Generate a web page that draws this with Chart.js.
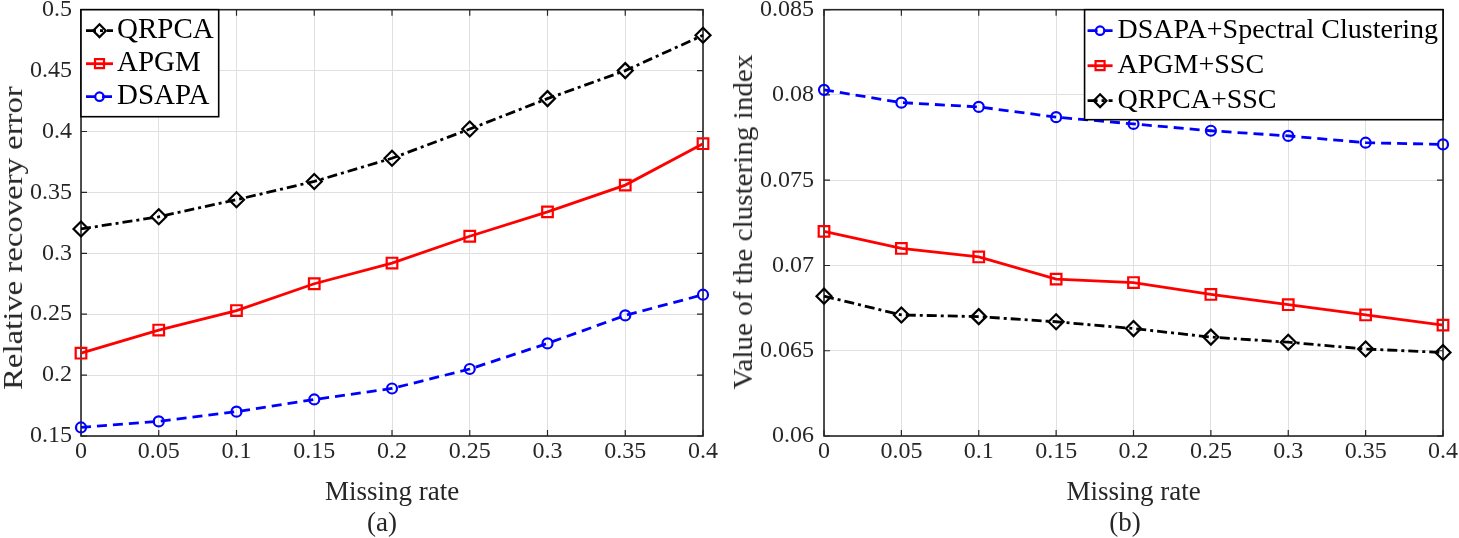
<!DOCTYPE html>
<html><head><meta charset="utf-8">
<script src="https://cdn.jsdelivr.net/npm/chart.js@4/dist/chart.umd.min.js"></script>
<style>
html,body{margin:0;padding:0;background:#fff;}
#wrap{position:relative;width:1459px;height:538px;overflow:hidden;font-family:"Liberation Serif","Times New Roman",serif;color:#262626;}
canvas{position:absolute;top:0;}
.lbl{position:absolute;white-space:nowrap;line-height:1;}
</style></head><body>
<div id="wrap">
<canvas id="ca" width="730" height="538" style="left:0"></canvas>
<canvas id="cb" width="729" height="538" style="left:730px"></canvas>
<div class="lbl" style="left:13px;top:238px;font-size:28px;transform:translate(-50%,-50%) rotate(-90deg) scaleX(1.17);">Relative recovery error</div>
<div class="lbl" style="left:743px;top:222px;font-size:28px;transform:translate(-50%,-50%) rotate(-90deg) scaleX(1.04);">Value of the clustering index</div>
<div class="lbl" style="left:382px;top:522px;font-size:27px;transform:translate(-50%,-50%);">(a)</div>
<div class="lbl" style="left:1125px;top:522px;font-size:27px;transform:translate(-50%,-50%);">(b)</div>
</div>
<script>
// ---------- data ----------
const missingRate = [0, 0.05, 0.1, 0.15, 0.2, 0.25, 0.3, 0.35, 0.4];
const xTickLabels = ['0', '0.05', '0.1', '0.15', '0.2', '0.25', '0.3', '0.35', '0.4'];

// (a) relative recovery error
const qrpcaErr = [0.320, 0.330, 0.344, 0.359, 0.378, 0.402, 0.427, 0.450, 0.479];
const apgmErr  = [0.218, 0.237, 0.253, 0.275, 0.292, 0.314, 0.334, 0.356, 0.390];
const dsapaErr = [0.157, 0.162, 0.170, 0.180, 0.189, 0.205, 0.226, 0.249, 0.266];
const yTicksA  = [0.15, 0.2, 0.25, 0.3, 0.35, 0.4, 0.45, 0.5];
const yLabelsA = ['0.15', '0.2', '0.25', '0.3', '0.35', '0.4', '0.45', '0.5'];

// (b) clustering index
const dsapaSC  = [0.0803, 0.07955, 0.0793, 0.0787, 0.0783, 0.0779, 0.0776, 0.0772, 0.0771];
const apgmSSC  = [0.0720, 0.0710, 0.0705, 0.0692, 0.0690, 0.0683, 0.0677, 0.0671, 0.0665];
const qrpcaSSC = [0.0682, 0.0671, 0.0670, 0.0667, 0.0663, 0.0658, 0.0655, 0.0651, 0.0649];
const yTicksB  = [0.06, 0.065, 0.07, 0.075, 0.08, 0.085];
const yLabelsB = ['0.06', '0.065', '0.07', '0.075', '0.08', '0.085'];

// ---------- helpers ----------
const FONT = '"Liberation Serif","Times New Roman",serif';
const AXC = '#262626';
const pts = arr => arr.map((v, i) => ({x: missingRate[i], y: v}));

const styles = {
  qrpca: {borderColor:'#000', borderDash:[10,4,3,4], pointStyle:'rectRot', pointRadius:7.5},
  apgm:  {borderColor:'#ff0000', borderDash:[], pointStyle:'rect', pointRadius:7.5},
  dsapa: {borderColor:'#0000ff', borderDash:[10,6], pointStyle:'circle', pointRadius:5}
};
function ds(label, data, st) {
  return {
    label, data: pts(data),
    borderColor: st.borderColor, pointBorderColor: st.borderColor,
    backgroundColor: 'rgba(0,0,0,0)', pointBackgroundColor: 'rgba(0,0,0,0)',
    borderWidth: 2.8, pointBorderWidth: 2.2, borderDash: st.borderDash,
    pointStyle: st.pointStyle, pointRadius: st.pointRadius, pointHoverRadius: st.pointRadius,
    tension: 0, clip: false
  };
}

function marker(ctx, style, r, x, y) {
  ctx.beginPath();
  if (style === 'circle') ctx.arc(x, y, r, 0, Math.PI * 2);
  else if (style === 'rect') { const s = r * Math.SQRT1_2; ctx.rect(x - s, y - s, 2 * s, 2 * s); }
  else if (style === 'rectRot') { ctx.moveTo(x, y - r); ctx.lineTo(x + r, y); ctx.lineTo(x, y + r); ctx.lineTo(x - r, y); ctx.closePath(); }
  ctx.stroke();
}

const framePlugin = {
  id: 'frame',
  beforeDatasetsDraw(chart) {
    const {ctx, chartArea: a, scales: {x, y}} = chart;
    ctx.save();
    ctx.strokeStyle = AXC;
    ctx.lineWidth = 1.2;
    ctx.beginPath();
    x.ticks.forEach(t => { const p = x.getPixelForValue(t.value);
      ctx.moveTo(p, a.bottom); ctx.lineTo(p, a.bottom - 6);
      ctx.moveTo(p, a.top); ctx.lineTo(p, a.top + 6); });
    y.ticks.forEach(t => { const p = y.getPixelForValue(t.value);
      ctx.moveTo(a.left, p); ctx.lineTo(a.left + 6, p);
      ctx.moveTo(a.right, p); ctx.lineTo(a.right - 6, p); });
    ctx.stroke();
    ctx.lineWidth = 1.6;
    ctx.strokeRect(a.left, a.top, a.right - a.left, a.bottom - a.top);
    ctx.restore();
  },
  afterDatasetsDraw(chart, args, o) {
    const {ctx, chartArea: a} = chart;
    ctx.save();
    ctx.font = o.fontSize + 'px ' + FONT;
    const dss = o.order.map(i => chart.data.datasets[i]);
    const maxW = Math.max(...dss.map(d => ctx.measureText(d.label).width));
    const w = o.textOff + maxW + 5;
    const h = o.height;
    const left = o.anchor === 'right' ? a.right - w : a.left;
    const top = a.top;
    ctx.fillStyle = '#fff';
    ctx.fillRect(left, top, w, h);
    ctx.strokeStyle = '#000'; ctx.lineWidth = 1.6;
    ctx.strokeRect(left, top, w, h);
    dss.forEach((d, k) => {
      const yy = top + o.firstRow + k * o.rowGap;
      ctx.strokeStyle = d.borderColor;
      ctx.lineWidth = d.borderWidth;
      ctx.setLineDash(d.borderDash);
      ctx.beginPath(); ctx.moveTo(left + o.s0, yy); ctx.lineTo(left + o.s1, yy); ctx.stroke();
      ctx.setLineDash([]);
      ctx.lineWidth = d.pointBorderWidth;
      marker(ctx, d.pointStyle, d.pointRadius * 0.85, left + (o.s0 + o.s1) / 2, yy);
      ctx.fillStyle = '#000';
      ctx.textBaseline = 'middle'; ctx.textAlign = 'left';
      ctx.fillText(d.label, left + o.textOff, yy);
    });
    ctx.restore();
  }
};

function makeChart(id, datasets, yTicks, yLabels, pad, yWidth, yPad, legend) {
  return new Chart(document.getElementById(id), {
    type: 'line',
    data: {datasets},
    plugins: [framePlugin],
    options: {
      responsive: false, animation: false, devicePixelRatio: 1,
      layout: {padding: pad},
      plugins: {legend: {display: false}, tooltip: {enabled: false}, title: {display: false}, frame: legend},
      scales: {
        x: {
          type: 'linear', min: 0, max: 0.4,
          afterBuildTicks: s => { s.ticks = missingRate.map(v => ({value: v})); },
          afterFit: s => { s.height = 102; },
          grid: {color: '#e0e0e0', lineWidth: 1, drawTicks: false},
          border: {display: false},
          ticks: {color: AXC, padding: 1, maxRotation: 0, autoSkip: false,
                  font: {family: FONT, size: 24, lineHeight: 1.2},
                  callback: (v, i) => xTickLabels[i]},
          title: {display: true, text: 'Missing rate', color: AXC,
                  font: {family: FONT, size: 27, lineHeight: 1}, padding: {top: 0, bottom: 32}}
        },
        y: {
          type: 'linear', min: yTicks[0], max: yTicks[yTicks.length - 1],
          afterBuildTicks: s => { s.ticks = yTicks.map(v => ({value: v})); },
          afterFit: s => { s.width = yWidth; s.paddingTop = 0; s.paddingBottom = 0; },
          grid: {color: '#e0e0e0', lineWidth: 1, drawTicks: false},
          border: {display: false},
          ticks: {color: AXC, padding: yPad, autoSkip: false,
                  font: {family: FONT, size: 24, lineHeight: 0.4},
                  callback: (v, i) => yLabels[i]}
        }
      }
    }
  });
}

makeChart('ca', [
  ds('QRPCA', qrpcaErr, styles.qrpca),
  ds('APGM', apgmErr, styles.apgm),
  ds('DSAPA', dsapaErr, styles.dsapa)
], yTicksA, yLabelsA, {left: 0, top: 8, right: 27, bottom: 0}, 81, 9,
  {anchor: 'left', order: [0, 1, 2], fontSize: 29, height: 107, firstRow: 21, rowGap: 33, s0: 5, s1: 32, textOff: 36});

makeChart('cb', [
  ds('DSAPA+Spectral Clustering', dsapaSC, styles.dsapa),
  ds('APGM+SSC', apgmSSC, styles.apgm),
  ds('QRPCA+SSC', qrpcaSSC, styles.qrpca)
], yTicksB, yLabelsB, {left: 0, top: 9, right: 15, bottom: 0}, 94, 10,
  {anchor: 'right', order: [0, 1, 2], fontSize: 28, height: 110, firstRow: 21, rowGap: 35, s0: 3, s1: 28, textOff: 33});
</script>
</body></html>
